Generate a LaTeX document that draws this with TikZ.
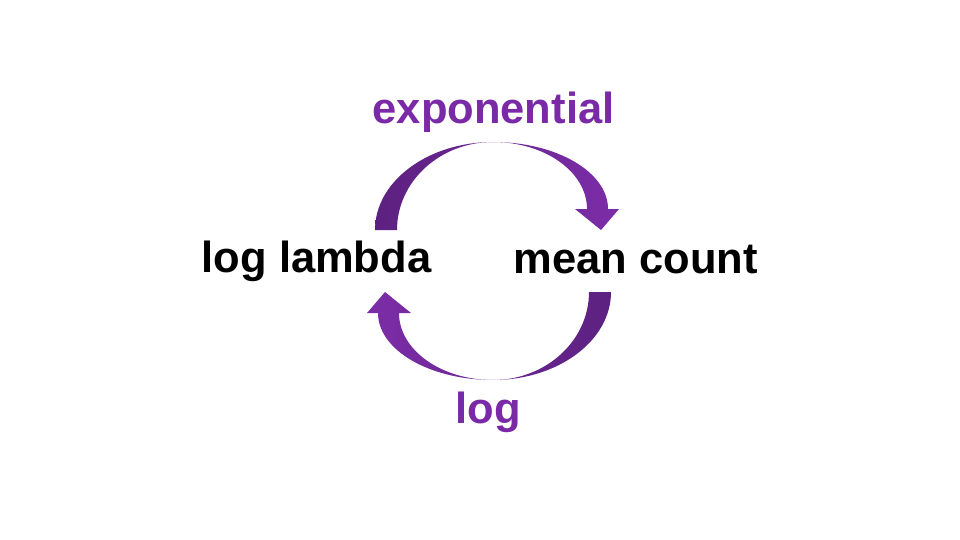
\documentclass[tikz,border=0pt]{standalone}
\usepackage{fontspec}
\setmainfont{Liberation Sans}
\definecolor{arrowdark}{RGB}{92,33,128}
\definecolor{arrowlight}{RGB}{124,45,168}
\definecolor{labelpurple}{RGB}{122,42,166}
\tikzset{
  term/.style={anchor=base, inner sep=0pt, font=\bfseries\fontsize{43.5}{50}\selectfont, text=black},
  oplabel/.style={term, text=labelpurple},
}
\begin{document}
\begin{tikzpicture}[x=1pt,y=-1pt]
\useasboundingbox[fill=white] (0,0) rectangle (960,540);
% labels
\node[term] (loglambda) at (316.5,272) {log lambda};
\node[term] (meancount) at (636,273) {mean count};
\node[oplabel] (expo) at (493.5,124) {exponential};
\node[oplabel] (logop) at (488.5,423) {log};
% top arrow: log lambda -> mean count
\shade[left color=arrowdark, right color=arrowlight]
  (375,230) .. controls (375,181.4) and (427.8,142) .. (493,142)
  .. controls (556.5,142) and (608,172) .. (608,209)
  -- (619,209) -- (601,230) -- (575,209) -- (587,209)
  .. controls (587,172) and (544.9,142) .. (493,142)
  .. controls (440,142) and (397,181.4) .. (397,230) -- cycle;
% bottom arrow: mean count -> log lambda
\shade[left color=arrowlight, right color=arrowdark]
  (611,292) .. controls (611,340.6) and (558.2,380) .. (493,380)
  .. controls (429.5,380) and (378,350) .. (378,313)
  -- (367,313) -- (385,292) -- (411,313) -- (399,313)
  .. controls (399,350) and (441.1,380) .. (493,380)
  .. controls (546,380) and (589,340.6) .. (589,292) -- cycle;
\end{tikzpicture}
\end{document}
